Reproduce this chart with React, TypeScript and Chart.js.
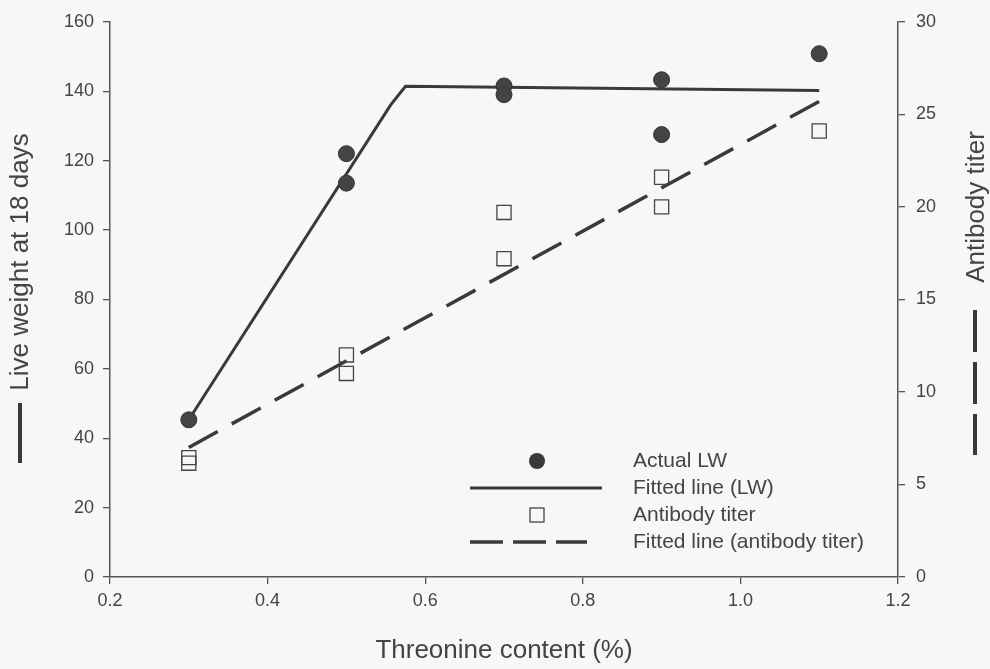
import React, { useEffect, useRef } from "react";
import { Chart, registerables } from "chart.js";

Chart.register(...registerables);

// ---- data ----
const lwX = [0.3, 0.5, 0.5, 0.7, 0.7, 0.9, 0.9, 1.1];
const lwY = [45.3, 122, 113.5, 141.5, 139, 143.3, 127.5, 150.8];
const titerX = [0.3, 0.3, 0.5, 0.5, 0.7, 0.7, 0.9, 0.9, 1.1];
const titerY = [6.45, 6.15, 12.0, 11.0, 19.7, 17.2, 21.6, 20.0, 24.1];
const fitLwX = [0.3, 0.556, 0.575, 1.1];
const fitLwY = [45.3, 136, 141.4, 140.2];
const fitTiterX = [0.3, 1.1];
const fitTiterY = [7.0, 25.7];
const legendLabels = ["Actual LW", "Fitted line (LW)", "Antibody titer", "Fitted line (antibody titer)"];
const xTitle = "Threonine content (%)";
const yTitle = "Live weight at 18 days";
const y2Title = "Antibody titer";

const FONT = "'Liberation Sans', Arial, sans-serif";
const TEXT = "#444";
const INK = "#3a3a3a";
const BG = "#f7f7f5";

const toPts = (xs: number[], ys: number[]) => xs.map((x, i) => ({ x, y: ys[i] }));

const decorPlugin = {
  id: "decor",
  beforeDraw(chart: any) {
    const ctx = chart.ctx;
    ctx.save();
    ctx.fillStyle = BG;
    ctx.fillRect(0, 0, chart.width, chart.height);
    ctx.restore();
  },
  afterDraw(chart: any) {
    const ctx = chart.ctx;
    const area = chart.chartArea;
    ctx.save();
    ctx.fillStyle = TEXT;
    ctx.textBaseline = "middle";
    // x title
    ctx.font = `26px ${FONT}`;
    ctx.textAlign = "center";
    ctx.fillText(xTitle, (area.left + area.right) / 2, 651);
    // left title
    ctx.save();
    ctx.translate(21, 262);
    ctx.rotate(-Math.PI / 2);
    ctx.fillText(yTitle, 0, 0);
    ctx.restore();
    // left symbol
    ctx.strokeStyle = INK;
    ctx.lineWidth = 4;
    ctx.beginPath();
    ctx.moveTo(20, 403);
    ctx.lineTo(20, 463);
    ctx.stroke();
    // right title
    ctx.save();
    ctx.translate(977, 207);
    ctx.rotate(-Math.PI / 2);
    ctx.fillText(y2Title, 0, 0);
    ctx.restore();
    // right symbol (dashed)
    ctx.beginPath();
    ctx.setLineDash([42, 10]);
    ctx.moveTo(975, 310);
    ctx.lineTo(975, 455);
    ctx.stroke();
    ctx.setLineDash([]);

    // legend
    const lx0 = 470, lx1 = 602, mx = 537, tx = 633;
    const rows = [461, 488, 515, 542];
    ctx.font = `21px ${FONT}`;
    ctx.textAlign = "left";
    // circle
    ctx.beginPath();
    ctx.arc(mx, rows[0], 8, 0, Math.PI * 2);
    ctx.fillStyle = INK;
    ctx.fill();
    // solid line
    ctx.lineWidth = 3;
    ctx.beginPath();
    ctx.moveTo(lx0, rows[1]);
    ctx.lineTo(lx1, rows[1]);
    ctx.stroke();
    // square
    ctx.lineWidth = 1.3;
    ctx.strokeStyle = "#444";
    ctx.strokeRect(mx - 7, rows[2] - 7, 14, 14);
    // dashed line
    ctx.strokeStyle = INK;
    ctx.lineWidth = 3.5;
    ctx.setLineDash([33, 10]);
    ctx.beginPath();
    ctx.moveTo(lx0, rows[3]);
    ctx.lineTo(587, rows[3]);
    ctx.stroke();
    ctx.setLineDash([]);
    ctx.fillStyle = TEXT;
    legendLabels.forEach((t, i) => ctx.fillText(t, tx, rows[i]));
    ctx.restore();
  },
};

export default function App() {
  const ref = useRef<HTMLCanvasElement | null>(null);
  useEffect(() => {
    if (!ref.current) return;
    const axisCommon = {
      grid: { drawOnChartArea: false, drawTicks: true, tickLength: 7, color: "#555", lineWidth: 1.3 },
      border: { display: true, color: "#555", width: 1.5 },
    };
    const chart = new Chart(ref.current, {
      type: "scatter",
      data: {
        datasets: [
          {
            label: "Fitted line (LW)",
            data: toPts(fitLwX, fitLwY),
            showLine: true,
            borderColor: INK,
            borderWidth: 3,
            pointRadius: 0,
            yAxisID: "y",
            order: 3,
          },
          {
            label: "Fitted line (antibody titer)",
            data: toPts(fitTiterX, fitTiterY),
            showLine: true,
            borderColor: INK,
            borderWidth: 3.5,
            borderDash: [33, 16],
            pointRadius: 0,
            yAxisID: "y2",
            order: 4,
          },
          {
            label: "Actual LW",
            data: toPts(lwX, lwY),
            pointStyle: "circle",
            pointRadius: 8,
            backgroundColor: "#444",
            borderColor: "#333",
            borderWidth: 1,
            yAxisID: "y",
            order: 1,
          },
          {
            label: "Antibody titer",
            data: toPts(titerX, titerY),
            pointStyle: "rect",
            pointRadius: 10,
            backgroundColor: "rgba(0,0,0,0)",
            borderColor: "#444",
            borderWidth: 1.3,
            yAxisID: "y2",
            order: 2,
          },
        ],
      },
      options: {
        animation: false,
        responsive: true,
        maintainAspectRatio: false,
        layout: { padding: { top: 19, left: 0, right: 0, bottom: 0 } },
        plugins: { legend: { display: false }, tooltip: { enabled: false } },
        scales: {
          x: {
            type: "linear",
            min: 0.2,
            max: 1.2,
            ...axisCommon,
            ticks: {
              stepSize: 0.2,
              padding: 6,
              color: TEXT,
              font: { size: 18, family: FONT },
              callback: (v: any) => Number(v).toFixed(1),
            },
            afterFit: (s: any) => {
              s.height = 92;
            },
          },
          y: {
            type: "linear",
            position: "left",
            min: 0,
            max: 160,
            ...axisCommon,
            ticks: { stepSize: 20, padding: 9, color: TEXT, font: { size: 18, family: FONT } },
            afterFit: (s: any) => {
              s.width = 110;
            },
          },
          y2: {
            type: "linear",
            position: "right",
            min: 0,
            max: 30,
            ...axisCommon,
            ticks: { stepSize: 5, padding: 11, color: TEXT, font: { size: 18, family: FONT } },
            afterFit: (s: any) => {
              s.width = 92;
            },
          },
        },
      },
      plugins: [decorPlugin],
    } as any);
    return () => chart.destroy();
  }, []);
  return (
    <div style={{ position: "fixed", left: 0, top: 0, width: 990, height: 669 }}>
      <canvas ref={ref} />
    </div>
  );
}
